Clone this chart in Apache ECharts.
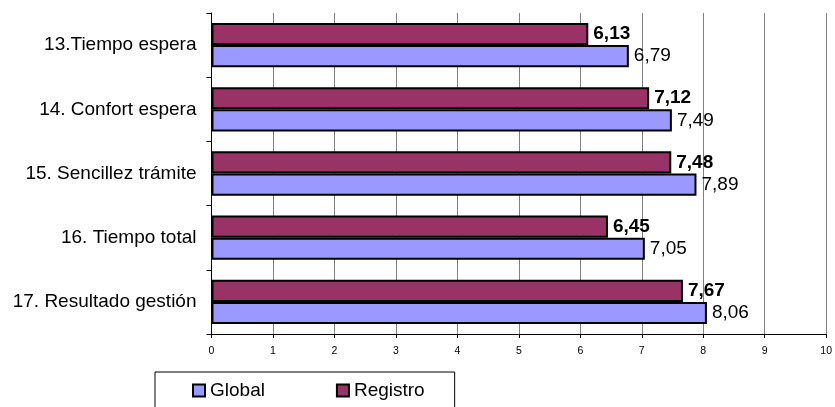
<!DOCTYPE html>
<html><head><meta charset="utf-8">
<script src="https://cdn.jsdelivr.net/npm/echarts@6/dist/echarts.min.js"></script>
<style>html,body{margin:0;padding:0;background:#fff}#c{width:835px;height:407px}</style>
</head><body><div id="c"></div>
<script>
const categories = ['13.Tiempo espera','14. Confort espera','15. Sencillez trámite','16. Tiempo total','17. Resultado gestión'];
const registro = [6.13, 7.12, 7.48, 6.45, 7.67];
const global = [6.79, 7.49, 7.89, 7.05, 8.06];
const xTicks = [0,1,2,3,4,5,6,7,8,9,10];

const FONT = 'Liberation Sans, Arial, sans-serif';
const fmt = p => p.value.toFixed(2).replace('.', ',');
const chart = echarts.init(document.getElementById('c'));
chart.setOption({
  animation: false,
  backgroundColor: '#fff',
  textStyle: {fontFamily: FONT},
  grid: {left: 211.5, right: 6.7, top: 13, bottom: 73, containLabel: false},
  legend: {
    data: ['Global', 'Registro'],
    left: 155, top: 372,
    padding: [9, 30, 30, 37],
    itemGap: 71,
    icon: 'rect',
    itemWidth: 12, itemHeight: 12,
    borderColor: '#000', borderWidth: 1,
    textStyle: {fontSize: 19, color: '#000', fontFamily: FONT},
    itemStyle: {borderColor: '#000', borderWidth: 2}
  },
  xAxis: {
    type: 'value', min: xTicks[0], max: xTicks[xTicks.length-1], interval: 1,
    axisLine: {show: true, lineStyle: {color: '#000', width: 1}},
    axisTick: {show: true, length: 4, lineStyle: {color: '#000'}},
    axisLabel: {fontSize: 10.5, color: '#000', margin: 12, fontFamily: FONT},
    splitLine: {show: true, lineStyle: {color: '#808080', width: 1}}
  },
  yAxis: {
    type: 'category', data: categories, inverse: true,
    axisLine: {show: true, lineStyle: {color: '#000', width: 1}},
    axisTick: {show: true, length: 5, interval: 0, lineStyle: {color: '#000'}},
    axisLabel: {fontSize: 19, color: '#000', margin: 15, fontFamily: FONT}
  },
  series: [
    {
      name: 'Registro', type: 'bar', data: registro,
      barGap: '0%', barCategoryGap: '31%',
      itemStyle: {color: '#993366', borderColor: '#000', borderWidth: 2},
      label: {show: true, position: 'right', distance: 5, formatter: fmt,
        fontSize: 19, fontWeight: 'bold', color: '#000', fontFamily: FONT}
    },
    {
      name: 'Global', type: 'bar', data: global,
      barGap: '0%', barCategoryGap: '31%',
      itemStyle: {color: '#9999FF', borderColor: '#000', borderWidth: 2},
      label: {show: true, position: 'right', distance: 5, formatter: fmt,
        fontSize: 19, color: '#000', fontFamily: FONT}
    }
  ]
});
</script></body></html>
